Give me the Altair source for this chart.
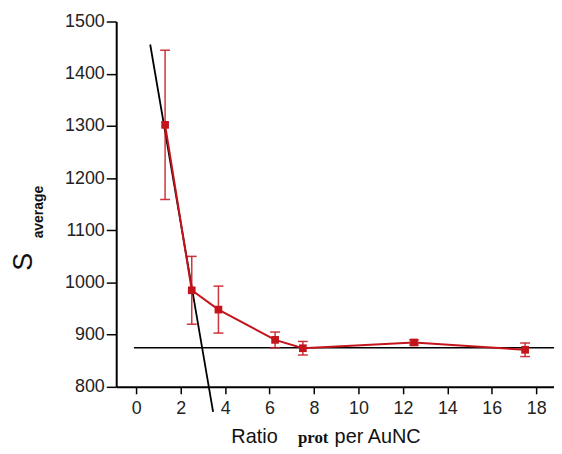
import altair as alt
import pandas as pd

# data
ratio = [1.3, 2.5, 3.7, 6.25, 7.5, 12.5, 17.5]
s_avg = [1302, 985, 948, 890, 874, 885, 871]
s_err = [143, 65, 45, 15, 13, 5, 13]

fit_x = [0.63, 3.46]
fit_y = [1456, 752]

plateau_x = [-0.1, 18.8]
plateau_y = [875, 875]

x_ticks = list(range(0, 19, 2))
y_ticks = list(range(800, 1501, 100))

df = pd.DataFrame({"x": ratio, "y": s_avg, "e": s_err})
df["lo"] = df["y"] - df["e"]
df["hi"] = df["y"] + df["e"]
fit = pd.DataFrame({"x": fit_x, "y": fit_y})
plat = pd.DataFrame({"x": plateau_x, "y": plateau_y})

RED = "#c3141c"
FONT = "Liberation Sans"

xs = alt.Scale(domain=[-0.9, 18.8], nice=False, zero=False)
ys = alt.Scale(domain=[800, 1500], nice=False, zero=False)

xax = alt.Axis(values=x_ticks, title=None, grid=False, domainColor="black", domainWidth=2,
               tickColor="black", tickWidth=1.5, tickSize=7, labelPadding=6, format="d",
               labelFont=FONT, labelFontSize=18, labelColor="#222222")
yax = alt.Axis(values=y_ticks, title=None, grid=False, domainColor="black", domainWidth=2,
               tickColor="black", tickWidth=1.5, tickSize=10, labelPadding=2, format="d",
               labelFont=FONT, labelFontSize=18, labelColor="#222222")

X = alt.X("x:Q", scale=xs, axis=xax)
Y = alt.Y("y:Q", scale=ys, axis=yax)

base = alt.Chart(df)

rules = base.mark_rule(color=RED, strokeWidth=1.5, opacity=0.85).encode(
    x=alt.X("x:Q", scale=xs, axis=xax), y=alt.Y("lo:Q", scale=ys, axis=yax), y2="hi:Q")
cap_lo = base.mark_tick(color=RED, size=10, thickness=1.5, orient="horizontal", opacity=0.85).encode(
    x=alt.X("x:Q", scale=xs), y=alt.Y("lo:Q", scale=ys))
cap_hi = base.mark_tick(color=RED, size=10, thickness=1.5, orient="horizontal", opacity=0.85).encode(
    x=alt.X("x:Q", scale=xs), y=alt.Y("hi:Q", scale=ys))
line = base.mark_line(color=RED, strokeWidth=2).encode(x=X, y=Y)
pts = base.mark_square(color=RED, size=60, opacity=1).encode(x=X, y=Y)

plat_line = alt.Chart(plat).mark_line(color="black", strokeWidth=1.5).encode(x=X, y=Y)
fit_line = alt.Chart(fit).mark_line(color="black", strokeWidth=1.8, clip=False).encode(x=X, y=Y)

one = pd.DataFrame({"k": [0]})
def label(txt, x, y, size, angle=0, font=FONT, weight="normal", align="left", baseline="alphabetic"):
    return alt.Chart(one).mark_text(text=txt, font=font, fontSize=size, fontWeight=weight,
                                    angle=angle, align=align, baseline=baseline,
                                    color="#111111", clip=False).encode(
        x=alt.value(x), y=alt.value(y))

t1 = label("Ratio", 116, 425, 20)
t2 = label("prot", 183, 425, 17, font="Liberation Serif", weight="bold")
t3 = label("per AuNC", 220, 425, 20)
s1 = label("S", -93, 242, 27, angle=270, align="center", baseline="middle")
s2 = label("average", -78, 192, 14, angle=270, align="center", baseline="middle", weight="bold")

chart = alt.layer(plat_line, fit_line, rules, cap_lo, cap_hi, line, pts,
                  t1, t2, t3, s1, s2).properties(
    width=441, height=368,
    autosize=alt.AutoSizeParams(type="none"),
    padding={"left": 109, "top": 12, "right": 0, "bottom": 62},
    background="white",
).configure_view(stroke=None)

chart.save("out.html", embed_options={"renderer": "svg", "actions": False})
